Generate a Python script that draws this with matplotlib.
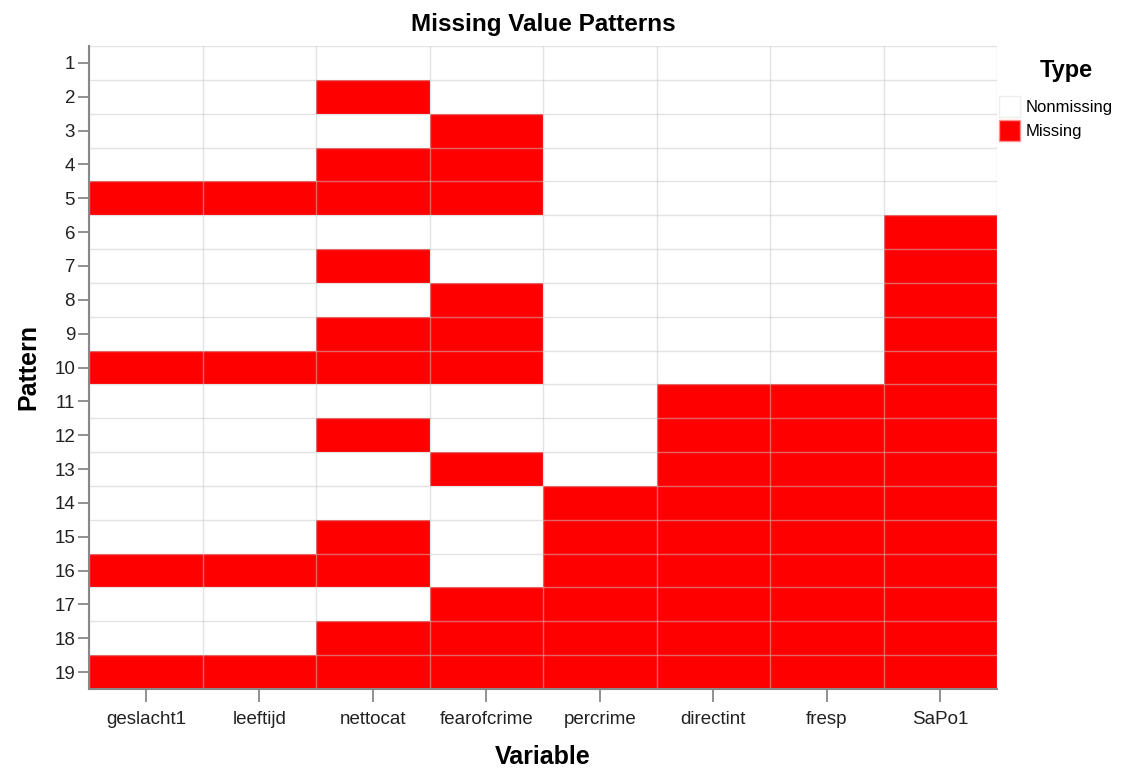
import numpy as np
import matplotlib.pyplot as plt
from matplotlib.colors import ListedColormap
from matplotlib.patches import Patch

plt.rcParams['font.family'] = ['Liberation Sans', 'DejaVu Sans']

variables = ["geslacht1", "leeftijd", "nettocat", "fearofcrime",
             "percrime", "directint", "fresp", "SaPo1"]
patterns = list(range(1, 20))

# 1 = missing, 0 = nonmissing; one row per pattern
missing = [
    [0, 0, 0, 0, 0, 0, 0, 0],
    [0, 0, 1, 0, 0, 0, 0, 0],
    [0, 0, 0, 1, 0, 0, 0, 0],
    [0, 0, 1, 1, 0, 0, 0, 0],
    [1, 1, 1, 1, 0, 0, 0, 0],
    [0, 0, 0, 0, 0, 0, 0, 1],
    [0, 0, 1, 0, 0, 0, 0, 1],
    [0, 0, 0, 1, 0, 0, 0, 1],
    [0, 0, 1, 1, 0, 0, 0, 1],
    [1, 1, 1, 1, 0, 0, 0, 1],
    [0, 0, 0, 0, 0, 1, 1, 1],
    [0, 0, 1, 0, 0, 1, 1, 1],
    [0, 0, 0, 1, 0, 1, 1, 1],
    [0, 0, 0, 0, 1, 1, 1, 1],
    [0, 0, 1, 0, 1, 1, 1, 1],
    [1, 1, 1, 0, 1, 1, 1, 1],
    [0, 0, 0, 1, 1, 1, 1, 1],
    [0, 0, 1, 1, 1, 1, 1, 1],
    [1, 1, 1, 1, 1, 1, 1, 1],
]

W, H = 1140, 772
fig = plt.figure(figsize=(W / 100, H / 100), dpi=100)
ax = fig.add_axes([89 / W, 1 - 689 / H, 908 / W, 643 / H])

cmap = ListedColormap(["white", "#ff0000"])
data = np.array(missing)
ax.pcolormesh(np.arange(len(variables) + 1) - 0.5,
              np.arange(len(patterns) + 1) - 0.5,
              data, cmap=cmap, vmin=0, vmax=1)
ax.set_xlim(-0.5, len(variables) - 0.5)
ax.set_ylim(len(patterns) - 0.5, -0.5)

ax.set_xticks(range(len(variables)))
ax.set_xticklabels(variables)
ax.set_yticks(range(len(patterns)))
ax.set_yticklabels(patterns)
ax.set_xticks(np.arange(len(variables) + 1) - 0.5, minor=True)
ax.set_yticks(np.arange(len(patterns) + 1) - 0.5, minor=True)
ax.grid(which='minor', color='#c8c8c8', alpha=0.5, linewidth=1)
ax.tick_params(which='minor', length=0)
ax.tick_params(which='major', width=1.3, color='#888888',
               labelsize=13.5, labelcolor='#222222')
ax.tick_params(axis='y', length=8, pad=2)
ax.tick_params(axis='x', length=9, pad=7)

for side in ['top', 'right']:
    ax.spines[side].set_visible(False)
for side in ['left', 'bottom']:
    ax.spines[side].set_color('#888888')
    ax.spines[side].set_linewidth(1.5)

ax.set_title("Missing Value Patterns", fontsize=17.5, fontweight='bold',
             y=1 + 21 / 643, va='center', pad=0)
ax.set_xlabel("Variable", fontsize=18, fontweight='bold', va='center')
ax.xaxis.set_label_coords(0.5, -68 / 643)
ax.set_ylabel("Pattern", fontsize=18, fontweight='bold', va='center')
ax.yaxis.set_label_coords(-61 / 908, 0.5)

handles = [Patch(facecolor='white', edgecolor='#eeeeee', label='Nonmissing'),
           Patch(facecolor='#ff0000', edgecolor='#ff9090', label='Missing')]
fig.legend(handles=handles, loc='upper left',
           bbox_to_anchor=(999 / W, 1 - 96 / H), frameon=False, fontsize=12,
           handlelength=1.25, handleheight=1.6, handletextpad=0.35,
           labelspacing=0.15, borderpad=0, borderaxespad=0)
fig.text(1066 / W, 1 - 70 / H, "Type", fontsize=17, fontweight='bold',
         ha='center', va='center')

fig.savefig("out.png", dpi=100)
